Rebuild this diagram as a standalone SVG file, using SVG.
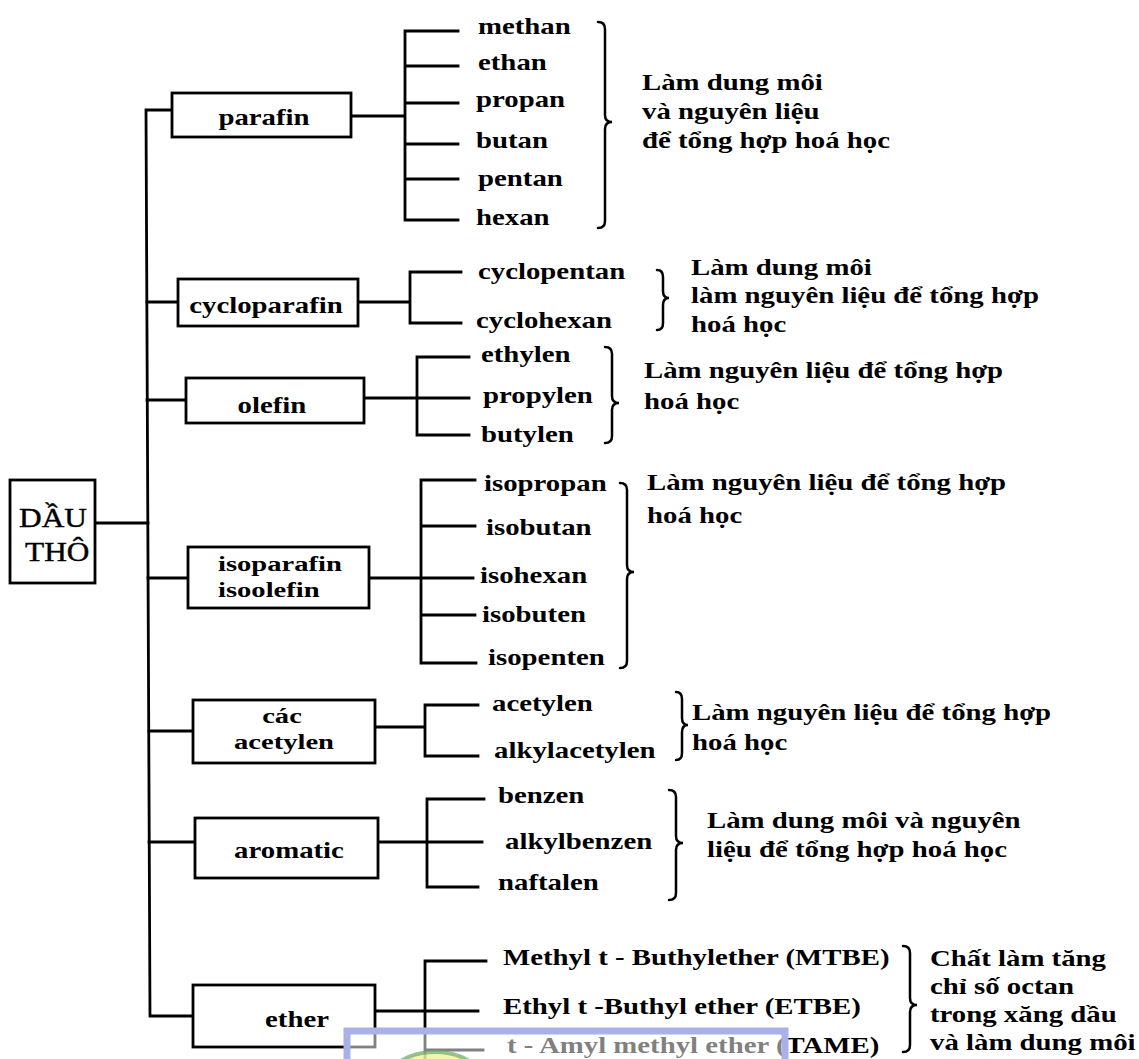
<svg xmlns="http://www.w3.org/2000/svg" width="1139" height="1059" viewBox="0 0 1139 1059">
<style>
.ln{stroke:#000;stroke-width:2.8;fill:none;stroke-linecap:square}
.bx{fill:#fff;stroke:#000;stroke-width:2.8}
.br{fill:none;stroke:#000;stroke-width:2.5;stroke-linecap:round}
.t{font-family:"Liberation Serif","Times New Roman",serif;font-size:24px;font-weight:bold;fill:#000}
.s{font-size:22px}
.r{font-weight:normal;font-size:28px;stroke:#000;stroke-width:0.4}
.c{text-anchor:middle}
</style>
<rect width="1139" height="1059" fill="#fff"/>
<g id="connectors">
<path class="ln" d="M172,110 H146 L150,1016 H193"/>
<path class="ln" d="M95,523 H148 M147,302 H178 M147,400 H186 M148,578 H188 M149,731 H193 M149,842 H195"/>
<path class="ln" d="M351,116 H405 M458,31 H405 V220 H458 M405,66 H458 M405,103 H458 M405,144 H458 M405,179 H458"/>
<path class="ln" d="M358,302 H410 M461,272 H410 V323 H461"/>
<path class="ln" d="M364,398 H469 M469,357 H417 V435 H469"/>
<path class="ln" d="M369,578 H473 M475,480 H421 V663 H476 M421,526 H475 M421,615 H475"/>
<path class="ln" d="M375,727 H425 M478,705 H425 V756 H478"/>
<path class="ln" d="M378,842 H482 M484,799 H427 V887 H478"/>
<path class="ln" d="M375,1011 H478 M486,961 H425 V1062 M425,1050 H483"/>
</g>
<g id="n-dau-tho"><rect class="bx" x="10" y="480" width="85" height="103"/>
<text class="t r" transform="translate(19,527) scale(1.12,1)">DẦU</text>
<text class="t r" transform="translate(25,561) scale(1.12,1)">THÔ</text></g>
<g id="n-parafin"><rect class="bx" x="172" y="93" width="179" height="44"/><text class="t c" transform="translate(264,125) scale(1.2,1)">parafin</text></g>
<g id="n-cycloparafin"><rect class="bx" x="178" y="279" width="180" height="47"/><text class="t c" transform="translate(266,313) scale(1.2,1)">cycloparafin</text></g>
<g id="n-olefin"><rect class="bx" x="186" y="378" width="178" height="45"/><text class="t c" transform="translate(272,413) scale(1.2,1)">olefin</text></g>
<g id="n-isoparafin"><rect class="bx" x="188" y="547" width="181" height="61"/><text class="t s" transform="translate(218,571) scale(1.3,1)">isoparafin</text><text class="t s" transform="translate(218,597) scale(1.3,1)">isoolefin</text></g>
<g id="n-acetylen"><rect class="bx" x="193" y="700" width="182" height="63"/><text class="t s c" transform="translate(282,723) scale(1.3,1)">các</text><text class="t s c" transform="translate(284,749) scale(1.3,1)">acetylen</text></g>
<g id="n-aromatic"><rect class="bx" x="195" y="818" width="183" height="60"/><text class="t c" transform="translate(289,858) scale(1.2,1)">aromatic</text></g>
<g id="n-ether"><rect class="bx" x="193" y="985" width="182" height="62"/><text class="t c" transform="translate(297,1027) scale(1.2,1)">ether</text></g>
<g id="items">
<g id="i-methan"><text class="t" transform="translate(478,34) scale(1.2,1)">methan</text></g>
<g id="i-ethan"><text class="t" transform="translate(478,70) scale(1.2,1)">ethan</text></g>
<g id="i-propan"><text class="t" transform="translate(476,107) scale(1.2,1)">propan</text></g>
<g id="i-butan"><text class="t" transform="translate(476,148) scale(1.2,1)">butan</text></g>
<g id="i-pentan"><text class="t" transform="translate(478,186) scale(1.2,1)">pentan</text></g>
<g id="i-hexan"><text class="t" transform="translate(476,225) scale(1.2,1)">hexan</text></g>
<g id="i-cyclopentan"><text class="t" transform="translate(478,279) scale(1.2,1)">cyclopentan</text></g>
<g id="i-cyclohexan"><text class="t" transform="translate(476,328) scale(1.2,1)">cyclohexan</text></g>
<g id="i-ethylen"><text class="t" transform="translate(481,362) scale(1.2,1)">ethylen</text></g>
<g id="i-propylen"><text class="t" transform="translate(483,403) scale(1.2,1)">propylen</text></g>
<g id="i-butylen"><text class="t" transform="translate(481,442) scale(1.2,1)">butylen</text></g>
<g id="i-isopropan"><text class="t" transform="translate(484,491) scale(1.2,1)">isopropan</text></g>
<g id="i-isobutan"><text class="t" transform="translate(486,535) scale(1.2,1)">isobutan</text></g>
<g id="i-isohexan"><text class="t" transform="translate(480,583) scale(1.2,1)">isohexan</text></g>
<g id="i-isobuten"><text class="t" transform="translate(482,622) scale(1.2,1)">isobuten</text></g>
<g id="i-isopenten"><text class="t" transform="translate(488,665) scale(1.2,1)">isopenten</text></g>
<g id="i-acetylen"><text class="t" transform="translate(492,711) scale(1.2,1)">acetylen</text></g>
<g id="i-alkylacetylen"><text class="t" transform="translate(494,758) scale(1.2,1)">alkylacetylen</text></g>
<g id="i-benzen"><text class="t" transform="translate(498,803) scale(1.2,1)">benzen</text></g>
<g id="i-alkylbenzen"><text class="t" transform="translate(505,849) scale(1.2,1)">alkylbenzen</text></g>
<g id="i-naftalen"><text class="t" transform="translate(498,890) scale(1.2,1)">naftalen</text></g>
<g id="i-mtbe"><text class="t" transform="translate(503,965) scale(1.2,1)">Methyl t - Buthylether (MTBE)</text></g>
<g id="i-etbe"><text class="t" transform="translate(503,1014) scale(1.2,1)">Ethyl t -Buthyl ether (ETBE)</text></g>
<g id="i-tame"><text class="t" transform="translate(507,1053) scale(1.2,1)">t - Amyl methyl ether (TAME)</text></g>
</g>
<g id="d-parafin"><path class="br" d="M598,22 Q605,22 605,29 L605,115 Q605,122 612,122 Q605,122 605,129 L605,221 Q605,228 598,228"/>
<text class="t" transform="translate(642,90) scale(1.2,1)">Làm dung môi</text>
<text class="t" transform="translate(642,119) scale(1.2,1)">và nguyên liệu</text>
<text class="t" transform="translate(642,148) scale(1.2,1)">để tổng hợp hoá học</text></g>
<g id="d-cycloparafin"><path class="br" d="M657,270 Q663,270 663,277 L663,291 Q663,298 669,298 Q663,298 663,305 L663,323 Q663,330 657,330"/>
<text class="t" transform="translate(691,275) scale(1.2,1)">Làm dung môi</text>
<text class="t" transform="translate(691,303) scale(1.2,1)">làm nguyên liệu để tổng hợp</text>
<text class="t" transform="translate(691,332) scale(1.2,1)">hoá học</text></g>
<g id="d-olefin"><path class="br" d="M605,347 Q612,347 612,354 L612,396 Q612,403 619,403 Q612,403 612,410 L612,436 Q612,443 605,443"/>
<text class="t" transform="translate(644,378) scale(1.2,1)">Làm nguyên liệu để tổng hợp</text>
<text class="t" transform="translate(644,409) scale(1.2,1)">hoá học</text></g>
<g id="d-isoparafin"><path class="br" d="M620,483 Q627,483 627,490 L627,565 Q627,572 634,572 Q627,572 627,579 L627,661 Q627,668 620,668"/>
<text class="t" transform="translate(647,490) scale(1.2,1)">Làm nguyên liệu để tổng hợp</text>
<text class="t" transform="translate(647,523) scale(1.2,1)">hoá học</text></g>
<g id="d-acetylen"><path class="br" d="M676,692 Q682,692 682,699 L682,718 Q682,725 688,725 Q682,725 682,732 L682,753 Q682,760 676,760"/>
<text class="t" transform="translate(692,720) scale(1.2,1)">Làm nguyên liệu để tổng hợp</text>
<text class="t" transform="translate(692,750) scale(1.2,1)">hoá học</text></g>
<g id="d-aromatic"><path class="br" d="M669,790 Q676,790 676,797 L676,836 Q676,843 683,843 Q676,843 676,850 L676,893 Q676,900 669,900"/>
<text class="t" transform="translate(707,828) scale(1.2,1)">Làm dung môi và nguyên</text>
<text class="t" transform="translate(707,857) scale(1.2,1)">liệu để tổng hợp hoá học</text></g>
<g id="d-ether"><path class="br" d="M903,946 Q910,946 910,953 L910,998 Q910,1005 917,1005 Q910,1005 910,1012 L910,1045 Q910,1052 903,1052"/>
<text class="t" transform="translate(930,966) scale(1.2,1)">Chất làm tăng</text>
<text class="t" transform="translate(930,994) scale(1.2,1)">chỉ số octan</text>
<text class="t" transform="translate(930,1022) scale(1.2,1)">trong xăng dầu</text>
<text class="t" transform="translate(930,1050) scale(1.2,1)">và làm dung môi</text></g>
<g id="watermark">
<rect x="347" y="1031" width="438" height="40" fill="#fff" fill-opacity="0.5"/>
<ellipse cx="435" cy="1088" rx="52" ry="36" fill="#eef08a" fill-opacity="0.7" stroke="#6aa86a" stroke-width="4" stroke-opacity="0.7"/>
<rect x="347" y="1031" width="438" height="40" fill="none" stroke="#aab0e8" stroke-width="7"/>
</g>
</svg>
